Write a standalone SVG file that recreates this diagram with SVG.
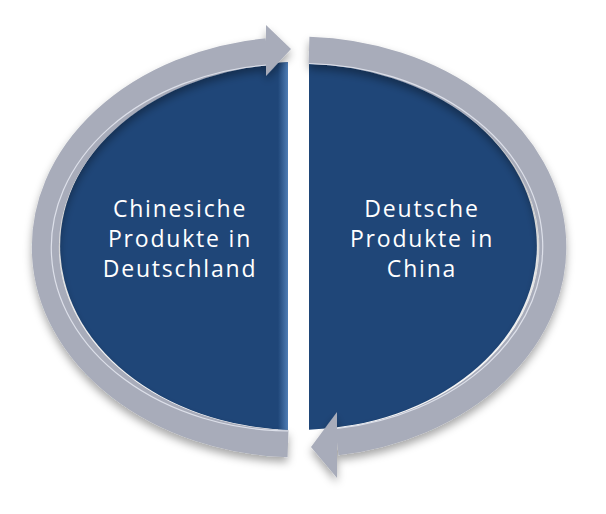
<svg xmlns="http://www.w3.org/2000/svg" width="606" height="514" viewBox="0 0 606 514">
<defs>
<style>
.half{fill:#1F4678;}
.lbl{font-family:"Open Sans","Liberation Sans",sans-serif;font-size:23px;letter-spacing:1.8px;fill:#FFFFFF;text-anchor:middle;}
.ring{fill:none;stroke:#A8ACBA;stroke-width:27;stroke-linecap:butt;}
.head{fill:#A8ACBA;}
.hl{fill:none;stroke:#DDE0EA;stroke-width:1.2;}
</style>
<filter id="sh" x="-10%" y="-10%" width="120%" height="130%">
<feDropShadow dx="0" dy="5" stdDeviation="4" flood-color="#000000" flood-opacity="0.35"/>
</filter>
<linearGradient id="edgeL" x1="0" y1="0" x2="1" y2="0">
<stop offset="0" stop-color="#1F4678"/>
<stop offset="1" stop-color="#4F7DB5"/>
</linearGradient>
<clipPath id="cl"><path d="M288,62.2 A239,184 0 0,0 288,429.8 Z"/></clipPath>
</defs>
<rect width="606" height="514" fill="#FFFFFF"/>
<g id="node-left">
<path class="half" d="M288,62.2 A239,184 0 0,0 288,429.8 Z"/>
<rect x="278" y="55" width="10" height="380" fill="url(#edgeL)" clip-path="url(#cl)"/>
<text class="lbl" x="180" y="217">Chinesiche</text>
<text class="lbl" x="180" y="247">Produkte in</text>
<text class="lbl" x="180" y="277">Deutschland</text>
</g>
<g id="node-right">
<path class="half" d="M309,62.2 A239,184 0 0,1 309,429.8 Z"/>
<text class="lbl" x="422" y="217">Deutsche</text>
<text class="lbl" x="422" y="247">Produkte in</text>
<text class="lbl" x="422" y="277">China</text>
</g>
<g id="connectors" filter="url(#sh)">
<g id="arrow-left">
<path class="ring" d="M288,443.8 A254,197 0 0,1 267,51.6"/>
<path class="hl" d="M288,431 A240.5,183.5 0 0,1 267,65"/>
<polygon class="head" points="266,25 291,49 266,76"/>
</g>
<g id="arrow-right">
<path class="ring" d="M309,50.2 A254,197 0 0,1 337,441.8"/>
<path class="hl" d="M309,63.5 A240.5,183.5 0 0,1 337,428.5"/>
<polygon class="head" points="337,412 311,447 337,478"/>
</g>
</g>
</svg>
